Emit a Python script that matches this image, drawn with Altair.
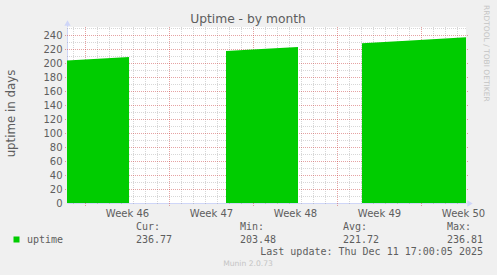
import altair as alt
import pandas as pd

# ---- data (x = days since the left edge of the graph) ----
seg_ids   = [1, 1, 1, 2, 2, 2, 3, 3, 3]
days      = [0.0, 2.6, 5.17, 13.25, 16.2, 19.25, 24.58, 29.0, 33.25]
uptime    = [203.48, 206.0, 208.7, 217.0, 219.9, 222.9, 228.2, 232.6, 236.8]

week_label_days = [5, 12, 19, 26, 33]
week_labels     = ["Week 46", "Week 47", "Week 48", "Week 49", "Week 50"]
week_start_days = [1.5, 8.5, 15.5, 22.5, 29.5]
day_grid_days   = [d + 0.5 for d in range(33) if (d + 0.5) not in week_start_days]
y_major = list(range(0, 241, 20))
y_minor = list(range(10, 251, 20))

legend_heads  = ["Cur:", "Min:", "Avg:", "Max:"]
legend_values = ["236.77", "203.48", "221.72", "236.81"]
series_name = "uptime"
title_text = "Uptime - by month"
y_title = "uptime in days"
last_update = "Last update: Thu Dec 11 17:00:05 2025"
footer = "Munin 2.0.73"
side_text = "RRDTOOL / TOBI OETIKER"

W, H = 399, 176
XMIN, XMAX = 0.0, 33.25
YMAX = 176 / 0.7
FONT = "DejaVu Sans"
MONO = "DejaVu Sans Mono"
TXT = "#5e5e5e"
AXISC = "#cfd6f8"

df = pd.DataFrame({"seg": seg_ids, "day": days, "uptime": uptime})
xs = alt.Scale(domain=[XMIN, XMAX], nice=False, zero=False)
ys = alt.Scale(domain=[0, YMAX], nice=False, zero=True)

label_map = "{" + ",".join(f"'{d}':'{t}'" for d, t in zip(week_label_days, week_labels)) + "}"

ax_x = alt.Axis(
    values=week_label_days, labelExpr=f"{label_map}[''+datum.value]",
    ticks=False, grid=False, domainColor=AXISC, labelFont=FONT, labelFontSize=10,
    labelColor=TXT, labelPadding=5, title=None, labelFlush=False, labelOverlap=False)
ax_y = alt.Axis(
    values=y_major, ticks=False, grid=False, domainColor=AXISC, labelFont=FONT,
    labelFontSize=10, labelColor=TXT, labelPadding=5, labelOverlap=False, title=y_title,
    titleFont=FONT, titleFontSize=11.8, titleFontWeight="normal", titleColor=TXT,
    titleX=-57, titleY=86, titleAngle=-90, titleAlign="center", titleBaseline="middle")

area = alt.Chart(df).mark_area(color="#00cc00", interpolate="linear").encode(
    x=alt.X("day:Q", scale=xs, axis=ax_x),
    y=alt.Y("uptime:Q", scale=ys, stack=None, axis=ax_y, title=y_title),
    detail="seg:N",
)

minor_v = alt.Chart(pd.DataFrame({"day": day_grid_days})).mark_rule(
    color="#8c8c8c", opacity=0.35, strokeDash=[1, 1], xOffset=0.5).encode(
    x=alt.X("day:Q", scale=xs, axis=ax_x), y=alt.value(0), y2=alt.value(H + 2))
major_v = alt.Chart(pd.DataFrame({"day": week_start_days})).mark_rule(
    color="#c83232", opacity=0.45, strokeDash=[1, 1], xOffset=0.5).encode(
    x=alt.X("day:Q", scale=xs, axis=ax_x), y=alt.value(0), y2=alt.value(H + 3))
minor_h = alt.Chart(pd.DataFrame({"v": y_minor})).mark_rule(
    color="#8c8c8c", opacity=0.35, strokeDash=[1, 1], yOffset=0.5).encode(
    y=alt.Y("v:Q", scale=ys, axis=ax_y, title=y_title), x=alt.value(0), x2=alt.value(W))
major_h = alt.Chart(pd.DataFrame({"v": y_major[1:]})).mark_rule(
    color="#c83232", opacity=0.45, strokeDash=[1, 1], yOffset=0.5).encode(
    y=alt.Y("v:Q", scale=ys, axis=ax_y, title=y_title), x=alt.value(-2), x2=alt.value(W + 2))

one = pd.DataFrame({"k": [0]})

def txt(s, x, y, font=FONT, size=10, color=TXT, align="left", angle=0, baseline="middle"):
    return alt.Chart(one).mark_text(text=s, font=font, fontSize=size, color=color,
                                    align=align, baseline=baseline, angle=angle).encode(
        x=alt.value(x), y=alt.value(y))

arrow_up = alt.Chart(one).mark_point(shape="triangle-up", filled=True, color=AXISC,
                                     size=40, opacity=1).encode(x=alt.value(0.5), y=alt.value(-4))
arrow_rt = alt.Chart(one).mark_point(shape="triangle-right", filled=True, color=AXISC,
                                     size=40, opacity=1).encode(x=alt.value(W + 4), y=alt.value(H + 0.5))
y_ext = alt.Chart(one).mark_rule(color=AXISC).encode(
    x=alt.value(0.5), y=alt.value(-2), y2=alt.value(0))

layers = [minor_v, minor_h, major_v, major_h, area, y_ext, arrow_up, arrow_rt,
          txt(title_text, 181, -8.5, size=12.3, align="center"),
          txt(side_text, 419, -22, size=7.5, color="#c4c4c4", angle=90, align="left")]

col_x = [69, 173, 276, 380]
for h, v, cx in zip(legend_heads, legend_values, col_x):
    layers.append(txt(h, cx, 200, font=MONO, size=10))
    layers.append(txt(v, cx, 212.5, font=MONO, size=10))
layers.append(alt.Chart(one).mark_square(color="#00cc00", size=36, opacity=1).encode(
    x=alt.value(-50.5), y=alt.value(212.5)))
layers.append(txt(series_name, -40, 212.5, font=MONO, size=10))
layers.append(txt(last_update, 416, 224.5, font=MONO, size=10, align="right"))
layers.append(txt(footer, 181, 236.5, size=7.6, color="#c4c4c4", align="center"))

chart = alt.layer(*layers).properties(
    width=W, height=H,
    autosize=alt.AutoSizeParams(type="none"),
    padding={"left": 67, "top": 27, "right": 31, "bottom": 72},
).configure(background="#f0f0f0").configure_view(fill="white", stroke=None
).configure_axis(grid=False)

chart.save("out.html", embed_options={"renderer": "svg", "actions": False})
